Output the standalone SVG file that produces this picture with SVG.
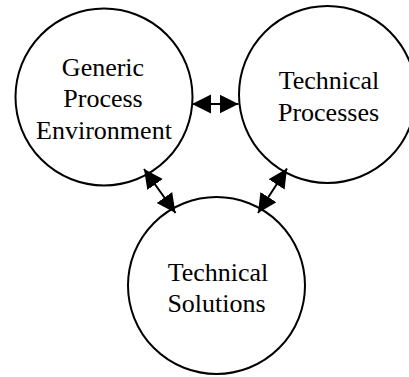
<svg xmlns="http://www.w3.org/2000/svg" width="409" height="377" viewBox="0 0 409 377">
  <style>
    .node circle { fill: #ffffff; stroke: #000000; stroke-width: 2; }
    .node text { font-family: "Liberation Serif", "Times New Roman", serif; font-size: 26px; fill: #000000; text-anchor: middle; }
    .link { stroke: #000000; stroke-width: 2; fill: none; marker-start: url(#head); marker-end: url(#head); }
  </style>
  <defs>
    <!-- solid triangular arrowhead, used at both ends of each connector -->
    <marker id="head" markerWidth="20" markerHeight="20" refX="19" refY="9.5" orient="auto-start-reverse" markerUnits="userSpaceOnUse">
      <path d="M0,0 L19,9.5 L0,19 Z" fill="#000000"/>
    </marker>
  </defs>
  <rect width="409" height="377" fill="#ffffff"/>

  <g id="node-generic-process-environment" class="node">
    <circle cx="104" cy="97" r="88.5"/>
    <text x="103" y="75.5">Generic</text>
    <text x="103" y="107">Process</text>
    <text x="104" y="138.5">Environment</text>
  </g>

  <g id="node-technical-processes" class="node">
    <circle cx="327.5" cy="94.5" r="88.5"/>
    <text x="329" y="89">Technical</text>
    <text x="328.5" y="120.5">Processes</text>
  </g>

  <g id="node-technical-solutions" class="node">
    <circle cx="216.5" cy="285.5" r="88.5"/>
    <text x="218" y="280.5">Technical</text>
    <text x="216.5" y="312">Solutions</text>
  </g>

  <g id="connectors">
    <line class="link" x1="192" y1="104" x2="238.5" y2="104"/>
    <line class="link" x1="144" y1="169" x2="175.5" y2="213"/>
    <line class="link" x1="287" y1="168.5" x2="258" y2="213"/>
  </g>
</svg>
